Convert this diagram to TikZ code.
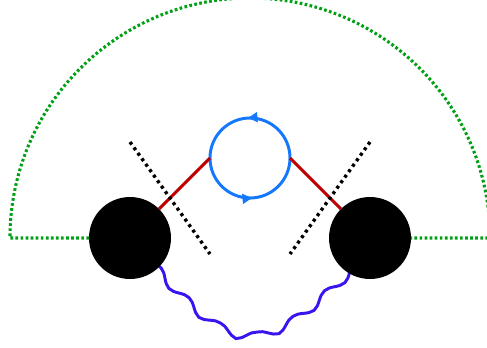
\documentclass[tikz,border=0pt]{standalone}
\usetikzlibrary{decorations.pathmorphing,decorations.markings,arrows.meta}
\definecolor{loopblue}{RGB}{20,120,255}
\definecolor{legred}{RGB}{190,0,0}
\definecolor{cutgreen}{RGB}{0,160,20}
\definecolor{wavyblue}{RGB}{60,20,240}

\begin{document}
\begin{tikzpicture}[
blob/.style={circle,fill=black,minimum size=2.05cm,inner sep=0pt,outer sep=0pt},
loopline/.style={circle,draw=loopblue,line width=2.1pt,minimum size=2cm,inner sep=0pt,outer sep=0pt,
  postaction={decorate,decoration={markings,
    mark=at position 0.265 with {\arrow{Latex[length=8pt,width=8pt]}},
    mark=at position 0.765 with {\arrow{Latex[length=8pt,width=8pt]}}}}},
leg/.style={color=legred,line width=2.1pt},
cut/.style={color=black,line width=2.4pt,dash pattern=on 2.2pt off 2.6pt},
shell/.style={color=cutgreen,line width=2.2pt,dash pattern=on 1.9pt off 1.7pt},
wavy/.style={color=wavyblue,line width=2.1pt,decorate,decoration={snake,segment length=1.03cm,amplitude=0.1cm,pre length=0.75cm}}]

\useasboundingbox[clip] (-6.25,-2.725) rectangle (5.925,5.95);

\coordinate (shellL) at (-6,0);
\coordinate (shellR) at (6,0);
\coordinate (cutLa) at (-3,2.4);
\coordinate (cutLb) at (-1,-0.4);
\coordinate (cutRa) at (3,2.4);
\coordinate (cutRb) at (1,-0.4);

\draw[wavy] (-3,0) to[out=-50,in=-135,looseness=1.75] (3,0);

\node[blob] (blobL) at (-3,0) {};
\node[blob] (blobR) at (3,0) {};
\node[loopline] (bubble) at (0,2) {};

\draw[leg] (blobL.45) -- (bubble.west);
\draw[leg] (blobR.135) -- (bubble.east);

\draw[cut] (cutLa) -- (cutLb);
\draw[cut] (cutRa) -- (cutRb);

\draw[shell] (blobL.west) -- (shellL) arc[start angle=180,end angle=0,radius=6] -- (blobR.east);
\end{tikzpicture}
\end{document}
